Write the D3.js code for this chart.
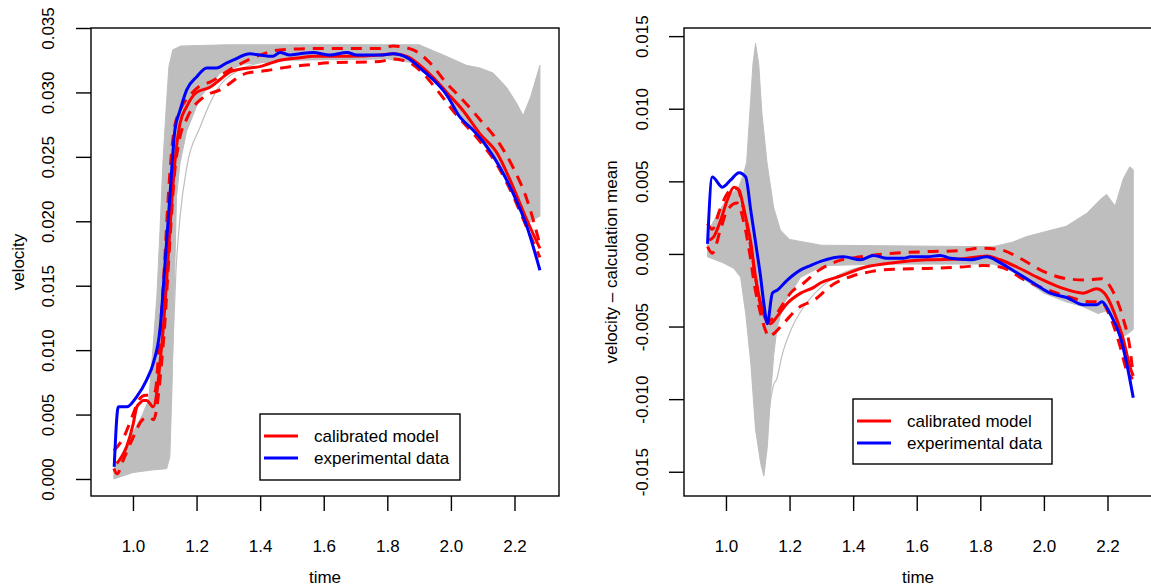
<!DOCTYPE html>
<html>
<head>
<meta charset="utf-8">
<title>velocity calibration</title>
<script src="https://d3js.org/d3.v7.min.js"></script>
<style>
  body { margin: 0; background: #fff; }
  svg { display: block; font-family: "Liberation Sans", Arial, sans-serif; }
  .tick text { font-size: 17px; fill: #000; }
</style>
</head>
<body>
<script>

// tick labels
var timeTicks = [1.0, 1.2, 1.4, 1.6, 1.8, 2.0, 2.2];
var velTicks = [0, 0.005, 0.010, 0.015, 0.020, 0.025, 0.030, 0.035];
var diffTicks = [-0.015, -0.010, -0.005, 0, 0.005, 0.010, 0.015];
var legendLabels = ["calibrated model", "experimental data"];

// ---- left panel: velocity, [time, value] ----
var envTopL = [[0.94,0.0008],[0.97,0.0022],[1.00,0.0036],[1.03,0.0050],[1.05,0.0062],[1.063,0.0102],[1.075,0.0141],
  [1.085,0.0193],[1.094,0.0245],[1.105,0.0290],[1.113,0.0320],[1.125,0.0333],[1.15,0.0336],[1.30,0.0337],[1.90,0.0337],
  [1.986,0.0328],[2.049,0.0321],[2.091,0.0319],[2.133,0.0315],[2.175,0.0304],[2.206,0.0292],[2.227,0.0282],[2.25,0.0296],[2.28,0.0321]];
var envLowL = [[0.94,0.0000],[1.00,0.0005],[1.06,0.0007],[1.106,0.0008],[1.116,0.0017],[1.122,0.0064],[1.127,0.0116],
  [1.132,0.0168],[1.137,0.0219],[1.148,0.0245],[1.169,0.0270],[1.211,0.0296],[1.274,0.0315],[1.35,0.0322],[1.50,0.0325],
  [1.80,0.0326],[1.88,0.0323],[1.965,0.0304],[2.038,0.0279],[2.091,0.0263],[2.145,0.0245],[2.195,0.0222],[2.239,0.0198],[2.28,0.0204]];
var simL = [[1.10,0.0010],[1.115,0.0040],[1.125,0.0100],[1.135,0.0160],[1.148,0.0203],[1.17,0.0243],[1.211,0.0273],
  [1.264,0.0302],[1.33,0.0317],[1.40,0.0323],[1.50,0.0326]];
var calibL = [[0.949,0.0012],[0.980,0.0025],[1.001,0.0043],[1.012,0.0056],[1.022,0.0059],[1.032,0.0061],[1.043,0.0061],
  [1.064,0.0056],[1.075,0.0067],[1.085,0.0090],[1.095,0.0116],[1.106,0.0154],[1.116,0.0193],[1.127,0.0232],[1.137,0.0258],
  [1.148,0.0276],[1.169,0.0289],[1.200,0.0300],[1.242,0.0304],[1.274,0.0310],[1.305,0.0316],[1.336,0.0318],[1.399,0.0320],
  [1.462,0.0325],[1.525,0.0327],[1.566,0.0328],[1.673,0.0328],[1.777,0.0329],[1.818,0.0330],[1.862,0.0328],[1.903,0.0321],
  [1.943,0.0312],[1.987,0.0300],[2.038,0.0286],[2.091,0.0268],[2.145,0.0253],[2.195,0.0227],[2.239,0.0201],[2.280,0.0179]];
var calibHiL = [[0.94,0.0022],[0.97,0.0032],[1.00,0.0050],[1.02,0.0062],[1.04,0.0065],[1.06,0.0065],[1.07,0.0068],
  [1.08,0.0095],[1.09,0.0130],[1.10,0.0170],[1.11,0.0215],[1.12,0.0250],[1.13,0.0272],[1.15,0.0287],[1.18,0.0298],
  [1.21,0.0305],[1.242,0.0308],[1.314,0.0319],[1.399,0.0329],[1.462,0.0333],[1.566,0.0334],[1.673,0.0334],[1.777,0.0334],
  [1.818,0.0336],[1.881,0.0333],[1.934,0.0323],[1.987,0.0307],[2.038,0.0294],[2.091,0.0279],[2.145,0.0263],[2.195,0.0242],
  [2.239,0.0217],[2.28,0.0182]];
var calibLoL = [[0.94,0.0008],[0.95,0.0004],[0.97,0.0015],[1.00,0.0032],[1.03,0.0046],[1.05,0.0048],[1.065,0.0046],
  [1.08,0.0065],[1.09,0.0090],[1.10,0.0120],[1.11,0.0160],[1.12,0.0200],[1.13,0.0235],[1.145,0.0262],[1.17,0.0280],
  [1.22,0.0296],[1.274,0.0302],[1.358,0.0315],[1.421,0.0317],[1.494,0.0320],[1.535,0.0321],[1.619,0.0323],[1.777,0.0324],
  [1.818,0.0326],[1.862,0.0324],[1.903,0.0317],[1.956,0.0302],[2.006,0.0286],[2.091,0.0262],[2.145,0.0244],[2.195,0.0220],
  [2.239,0.0195],[2.28,0.0172]];
var expL = [[0.941,0.00095],[0.954,0.0056],[0.980,0.0056],[1.012,0.0064],[1.043,0.0077],[1.064,0.0090],[1.085,0.0116],
  [1.101,0.0168],[1.116,0.0219],[1.132,0.0271],[1.148,0.0286],[1.169,0.0302],[1.200,0.0312],[1.232,0.0319],[1.263,0.0319],
  [1.295,0.0323],[1.314,0.0325],[1.368,0.0330],[1.399,0.0329],[1.440,0.0328],[1.462,0.0331],[1.494,0.0329],[1.525,0.0330],
  [1.566,0.0331],[1.619,0.0329],[1.673,0.0331],[1.704,0.0329],[1.777,0.0329],[1.818,0.0330],[1.862,0.0327],[1.912,0.0317],
  [1.956,0.0307],[1.987,0.0298],[2.028,0.0281],[2.069,0.0271],[2.113,0.0258],[2.154,0.0242],[2.195,0.0222],[2.239,0.0196],
  [2.280,0.0162]];

// ---- right panel: velocity - calculation mean ----
var envTopR = [[0.942,0.0015],[0.98,0.0030],[1.01,0.0040],[1.04,0.0046],[1.055,0.0055],[1.065,0.0063],[1.075,0.0097],
  [1.085,0.0131],[1.093,0.0145],[1.103,0.0131],[1.113,0.0097],[1.129,0.0063],[1.15,0.0032],[1.171,0.00165],[1.20,0.0010],
  [1.30,0.0006],[1.84,0.0005],[1.90,0.0008],[1.946,0.0012],[1.998,0.0015],[2.07,0.0019],[2.135,0.0028],[2.175,0.0037],
  [2.197,0.0041],[2.224,0.0033],[2.25,0.0052],[2.27,0.0060],[2.281,0.0058]];
var envLowR = [[0.942,-0.0002],[0.99,-0.0006],[1.025,-0.0010],[1.046,-0.0016],[1.062,-0.0041],[1.078,-0.0075],
  [1.093,-0.0121],[1.109,-0.0144],[1.119,-0.0153],[1.13,-0.0133],[1.14,-0.0098],[1.15,-0.0070],[1.16,-0.0052],
  [1.18,-0.0035],[1.235,-0.0016],[1.307,-0.0008],[1.50,-0.0007],[1.84,-0.0007],[1.90,-0.0012],[2.00,-0.0027],
  [2.07,-0.0033],[2.12,-0.0036],[2.17,-0.0041],[2.20,-0.0039],[2.22,-0.0045],[2.25,-0.0057],[2.27,-0.0054],[2.281,-0.0052]];
var simR = [[1.12,-0.0150],[1.135,-0.0110],[1.15,-0.0090],[1.16,-0.0086],[1.175,-0.0071],[1.205,-0.0052],
  [1.246,-0.0036],[1.28,-0.0027],[1.35,-0.0015],[1.45,-0.0008]];
var calibR = [[0.947,0.00096],[0.962,0.0012],[0.983,0.0023],[1.004,0.0037],[1.025,0.0046],[1.041,0.0044],[1.057,0.0030],
  [1.078,0.0008],[1.093,-0.0016],[1.109,-0.0034],[1.125,-0.0045],[1.140,-0.0048],[1.161,-0.0043],[1.193,-0.0034],
  [1.235,-0.0027],[1.276,-0.0023],[1.297,-0.0020],[1.35,-0.0016],[1.44,-0.0009],[1.527,-0.0006],[1.632,-0.0004],
  [1.737,-0.00035],[1.821,-0.00014],[1.862,-0.0004],[1.915,-0.0009],[1.978,-0.0016],[2.051,-0.0023],[2.124,-0.0027],
  [2.166,-0.0024],[2.197,-0.0029],[2.229,-0.0045],[2.250,-0.0059],[2.271,-0.0078],[2.281,-0.0084]];
var calibHiR = [[0.942,0.0021],[0.957,0.0017],[0.98,0.0030],[1.00,0.0040],[1.02,0.0045],[1.035,0.0045],[1.05,0.0036],
  [1.07,0.0015],[1.09,-0.0012],[1.105,-0.0032],[1.12,-0.0042],[1.135,-0.0046],[1.15,-0.0044],[1.175,-0.0036],
  [1.203,-0.0027],[1.245,-0.0020],[1.287,-0.0012],[1.35,-0.0005],[1.423,-0.0002],[1.527,0.00005],[1.632,0.00016],
  [1.737,0.00023],[1.80,0.0004],[1.862,0.0003],[1.925,-0.0003],[1.998,-0.0012],[2.07,-0.0017],[2.14,-0.0018],
  [2.18,-0.0017],[2.22,-0.0027],[2.25,-0.0045],[2.27,-0.0064],[2.28,-0.0082]];
var calibLoR = [[0.942,0.0005],[0.957,0.00005],[0.983,0.0017],[1.004,0.0030],[1.035,0.0035],[1.057,0.0021],[1.075,0.0000],
  [1.09,-0.0022],[1.11,-0.0042],[1.125,-0.0053],[1.135,-0.0057],[1.15,-0.0055],[1.18,-0.0048],[1.235,-0.0036],
  [1.276,-0.0032],[1.33,-0.0022],[1.40,-0.0015],[1.46,-0.0012],[1.527,-0.00105],[1.632,-0.0010],[1.737,-0.0009],
  [1.81,-0.0008],[1.862,-0.0009],[1.94,-0.0018],[2.07,-0.0029],[2.15,-0.0033],[2.18,-0.0033],[2.208,-0.0043],
  [2.24,-0.0064],[2.26,-0.0080],[2.28,-0.0086]];
var expR = [[0.942,0.0007],[0.957,0.0053],[0.989,0.0046],[1.015,0.0051],[1.041,0.0056],[1.062,0.0053],[1.078,0.0030],
  [1.093,0.0008],[1.109,-0.0016],[1.119,-0.0034],[1.130,-0.0048],[1.146,-0.0027],[1.161,-0.0025],[1.193,-0.0018],
  [1.235,-0.0011],[1.266,-0.0008],[1.30,-0.0005],[1.37,-0.0002],[1.423,-0.0004],[1.464,-0.0001],[1.507,-0.0003],
  [1.558,-0.0003],[1.580,-0.0002],[1.632,-0.0002],[1.674,-0.0001],[1.706,-0.0003],[1.769,-0.0004],[1.821,-0.0002],
  [1.862,-0.0006],[1.915,-0.0013],[1.967,-0.0020],[2.020,-0.0027],[2.072,-0.0030],[2.124,-0.0035],[2.166,-0.0035],
  [2.182,-0.0033],[2.208,-0.0041],[2.240,-0.0057],[2.260,-0.0075],[2.281,-0.0099]];

var width = 1151, height = 588;
var svg = d3.select("body").append("svg")
  .attr("width", width)
  .attr("height", height);

function fmt(d) {
  return d3.format(".3f")(d).replace("\u2212", "-");
}

function panel(o) {
  var x = d3.scaleLinear().domain([0.868, 2.340]).range([o.left, o.right]);
  var y = d3.scaleLinear().domain(o.ydom).range([496, 28]);
  var g = svg.append("g");

  var line = d3.line()
    .x(function(d) { return x(d[0]); })
    .y(function(d) { return y(d[1]); })
    .curve(d3.curveMonotoneX);

  // gray envelope of the calculations
  var poly = o.top.concat(o.low.slice().reverse());
  g.append("path")
    .attr("d", d3.line().x(function(d) { return x(d[0]); }).y(function(d) { return y(d[1]); })(poly) + "Z")
    .attr("fill", "#bebebe")
    .attr("stroke", "#bebebe")
    .attr("stroke-width", 1);
  g.append("path").attr("d", line(o.sim))
    .attr("fill", "none").attr("stroke", "#bebebe").attr("stroke-width", 1.2);

  [o.hi, o.lo].forEach(function(s) {
    g.append("path").attr("d", line(s))
      .attr("fill", "none").attr("stroke", "#ff0000").attr("stroke-width", 3)
      .attr("stroke-dasharray", "11,8");
  });
  g.append("path").attr("d", line(o.calib))
    .attr("fill", "none").attr("stroke", "#ff0000").attr("stroke-width", 3);
  g.append("path").attr("d", line(o.exp))
    .attr("fill", "none").attr("stroke", "#0000ff").attr("stroke-width", 3);

  // box
  g.append("rect")
    .attr("x", o.left).attr("y", 28)
    .attr("width", o.right - o.left).attr("height", 468)
    .attr("fill", "none").attr("stroke", "#000").attr("stroke-width", 1.4);

  // axes
  var xa = g.append("g").attr("transform", "translate(0,496)")
    .call(d3.axisBottom(x).tickValues(timeTicks).tickSize(15).tickSizeOuter(0)
      .tickFormat(d3.format(".1f")));
  xa.select(".domain").remove();
  xa.selectAll(".tick line").attr("stroke-width", 1.4);
  xa.selectAll(".tick text").attr("y", 50.5).attr("dy", "0.35em");

  var ya = g.append("g").attr("transform", "translate(" + o.left + ",0)")
    .call(d3.axisLeft(y).tickValues(o.ticks).tickSize(15).tickSizeOuter(0).tickFormat(fmt));
  ya.select(".domain").remove();
  ya.selectAll(".tick line").attr("stroke-width", 1.4);
  ya.selectAll(".tick text")
    .attr("x", 0).attr("y", 0).attr("dy", "0.35em")
    .attr("text-anchor", "middle")
    .attr("transform", "translate(" + (-o.labOff) + ",0) rotate(-90)");

  // axis titles
  g.append("text")
    .attr("x", (o.left + o.right) / 2).attr("y", 583)
    .attr("text-anchor", "middle").attr("font-size", 17)
    .text("time");
  g.append("text")
    .attr("transform", "translate(" + o.ylabX + ",262) rotate(-90)")
    .attr("text-anchor", "middle").attr("font-size", 17)
    .text(o.ylab);

  // legend
  var L = o.leg;
  g.append("rect")
    .attr("x", L.x).attr("y", L.y).attr("width", L.w).attr("height", L.h)
    .attr("fill", "#fff").attr("stroke", "#000").attr("stroke-width", 1.4);
  var colors = ["#ff0000", "#0000ff"];
  legendLabels.forEach(function(lab, i) {
    var yy = L.y + 22 + i * 22;
    g.append("line")
      .attr("x1", L.x + 4).attr("x2", L.x + 38)
      .attr("y1", yy).attr("y2", yy)
      .attr("stroke", colors[i]).attr("stroke-width", 3);
    g.append("text")
      .attr("x", L.x + 54).attr("y", yy).attr("dy", "0.35em")
      .attr("font-size", 17)
      .text(lab);
  });
}

panel({
  left: 91, right: 559, ydom: [-0.00132, 0.035], ticks: velTicks, labOff: 43,
  top: envTopL, low: envLowL, sim: simL, calib: calibL, hi: calibHiL, lo: calibLoL, exp: expL,
  ylab: "velocity", ylabX: 24,
  leg: { x: 260, y: 414, w: 200, h: 66 }
});

panel({
  left: 684, right: 1152, ydom: [-0.01667, 0.01556], ticks: diffTicks, labOff: 42,
  top: envTopR, low: envLowR, sim: simR, calib: calibR, hi: calibHiR, lo: calibLoR, exp: expR,
  ylab: "velocity \u2013 calculation mean", ylabX: 617,
  leg: { x: 853, y: 399, w: 199, h: 65 }
});

</script>
</body>
</html>
